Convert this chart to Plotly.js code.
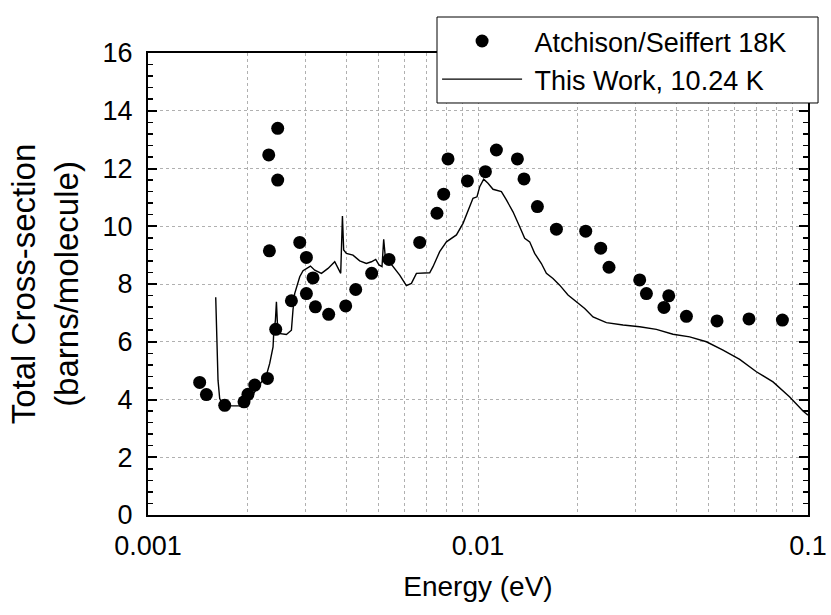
<!DOCTYPE html>
<html>
<head>
<meta charset="utf-8">
<script src="https://cdn.plot.ly/plotly-3.0.1.min.js"></script>
<style>html,body{margin:0;padding:0;background:#fff;}#chart{width:831px;height:615px;}</style>
</head>
<body>
<div id="chart"></div>
<script>
// Atchison/Seiffert 18K data points
const atchisonE = [0.001434,0.001503,0.001708,0.001954,0.002009,0.002106,0.002301,0.002438,0.002333,0.002322,0.002472,0.002472,0.002720,0.002883,0.003020,0.003020,0.003162,0.003216,0.003528,0.003973,0.004260,0.004763,0.005374,0.006658,0.007510,0.007870,0.008113,0.009288,0.010530,0.011370,0.013165,0.013786,0.015136,0.017283,0.021204,0.023541,0.024946,0.030903,0.032385,0.037844,0.036603,0.042810,0.053000,0.066250,0.083650];
const atchisonS = [4.59,4.17,3.80,3.92,4.18,4.50,4.73,6.43,9.15,12.47,13.39,11.60,7.42,9.44,8.92,7.67,8.21,7.21,6.95,7.24,7.81,8.37,8.85,9.44,10.45,11.11,12.33,11.57,11.89,12.64,12.33,11.64,10.68,9.90,9.83,9.24,8.58,8.14,7.67,7.59,7.19,6.88,6.72,6.79,6.75];

// This Work, 10.24 K
const workE = [0.001604,0.001615,0.001630,0.001649,0.001688,0.001793,0.001919,0.002058,0.002154,0.002285,0.002338,0.002393,0.002404,0.002433,0.002450,0.002467,0.002489,0.002627,0.002720,0.002750,0.002783,0.002883,0.002950,0.003106,0.003201,0.003354,0.003512,0.003680,0.003792,0.003837,0.003883,0.003917,0.003992,0.004180,0.004380,0.004589,0.004753,0.004898,0.005012,0.005118,0.005179,0.005241,0.005337,0.005527,0.005791,0.006067,0.006284,0.006507,0.007139,0.007305,0.007654,0.008023,0.008603,0.009009,0.009436,0.009656,0.009931,0.010120,0.010406,0.010723,0.011104,0.011773,0.012192,0.012766,0.013377,0.013851,0.014343,0.014851,0.015562,0.016115,0.016875,0.017681,0.018738,0.019869,0.021056,0.022310,0.024494,0.027510,0.030903,0.034714,0.038981,0.043800,0.049215,0.055262,0.062087,0.069759,0.078343,0.088030,0.096560,0.1];
const workS = [7.54,5.82,4.67,4.03,3.80,3.78,3.78,4.09,4.44,4.84,5.25,5.82,6.29,6.75,7.38,6.63,6.29,6.25,6.40,7.10,7.67,8.25,8.46,8.62,8.48,8.37,8.54,8.77,8.48,8.37,10.35,9.18,9.06,9.00,8.80,8.71,8.77,8.85,8.66,8.60,9.55,8.89,8.83,8.60,8.31,7.94,8.02,8.37,8.39,8.60,9.12,9.46,9.70,10.10,10.68,10.97,11.02,11.37,11.63,11.49,11.28,11.20,10.91,10.50,9.98,9.58,9.46,9.06,8.71,8.37,8.19,7.96,7.62,7.38,7.15,6.86,6.66,6.58,6.52,6.43,6.26,6.17,6.00,5.71,5.39,4.96,4.61,4.09,3.60,3.46];

const xTickVals = [0.001,0.002,0.003,0.004,0.005,0.006,0.007,0.008,0.009,0.01,0.02,0.03,0.04,0.05,0.06,0.07,0.08,0.09,0.1];
const xTickText = ['0.001','','','','','','','','','0.01','','','','','','','','','0.1'];
const yTickVals = [0,2,4,6,8,10,12,14,16];

const traces = [
  {x: atchisonE, y: atchisonS, type:'scatter', mode:'markers', name:'\u00a0Atchison/Seiffert 18K',
   marker:{color:'#000', size:13}},
  {x: workE, y: workS, type:'scatter', mode:'lines', name:'\u00a0This Work, 10.24 K',
   line:{color:'#000', width:1.4}}
];

const font = 'Liberation Sans, Arial, sans-serif';
const layout = {
  width:831, height:615,
  margin:{l:148, r:23, t:53, b:100},
  paper_bgcolor:'#fff', plot_bgcolor:'#fff',
  font:{family:font, color:'#000', size:27},
  showlegend:true,
  legend:{x:0.438, y:1.078, xanchor:'left', yanchor:'top', bgcolor:'rgba(0,0,0,0)', borderwidth:0,
    font:{family:font, size:27, color:'#000'}, itemwidth:80},
  shapes:[{type:'rect', xref:'paper', yref:'paper', x0:0.4379, x1:1.0152, y0:0.8918, y1:1.0779,
    fillcolor:'#fff', line:{color:'#000', width:1}, layer:'above'}],
  xaxis:{type:'log', range:[-3,-1], tickvals:xTickVals, ticktext:xTickText,
    showgrid:true, gridcolor:'#b0b0b0', griddash:'dot', gridwidth:1,
    showline:true, linecolor:'#000', linewidth:2, mirror:true,
    ticks:'', zeroline:false, tickfont:{size:27}, ticklabelstandoff:6,
    title:{text:'Energy (eV)', font:{size:28}, standoff:16}},
  yaxis:{range:[0,16], tickvals:yTickVals,
    showgrid:true, gridcolor:'#b0b0b0', griddash:'dot', gridwidth:1,
    showline:true, linecolor:'#000', linewidth:2, mirror:'allticks',
    ticks:'inside', ticklen:9, tickwidth:2, tickcolor:'#000', zeroline:false,
    minor:{dtick:0.4, ticks:'inside', ticklen:5, tickwidth:1.5, tickcolor:'#000', showgrid:false},
    tickfont:{size:27}, ticklabelstandoff:8,
    title:{text:'Total Cross-section<br>(barns/molecule)', font:{size:33}, standoff:14}}
};

Plotly.newPlot('chart', traces, layout, {staticPlot:true, displayModeBar:false});
</script>
</body>
</html>
